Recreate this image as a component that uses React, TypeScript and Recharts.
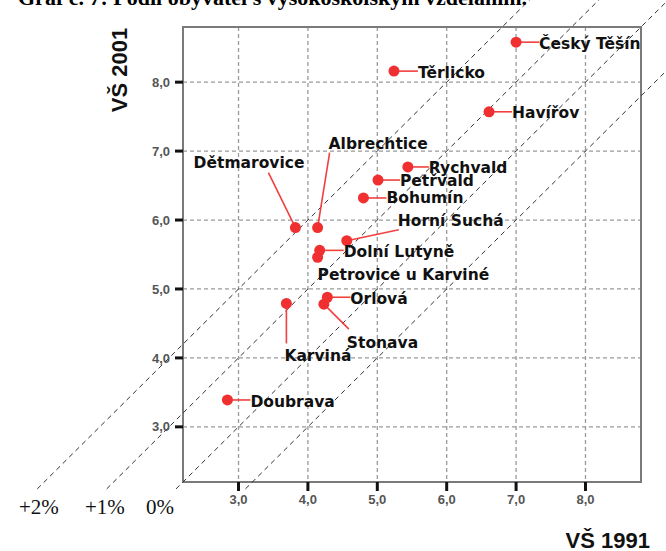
import { ScatterChart, Scatter, XAxis, YAxis, CartesianGrid, ReferenceLine, ReferenceArea } from "recharts";

// obce: podíl obyvatel s VŠ (%) v letech 1991 a 2001
const towns = [
  "Český Těšín",
  "Těrlicko",
  "Havířov",
  "Rychvald",
  "Petřvald",
  "Bohumín",
  "Horní Suchá",
  "Dolní Lutyně",
  "Petrovice u Karviné",
  "Albrechtice",
  "Dětmarovice",
  "Orlová",
  "Stonava",
  "Karviná",
  "Doubrava",
];
const vs1991 = [7.0, 5.24, 6.61, 5.44, 5.01, 4.8, 4.56, 4.17, 4.14, 4.14, 3.82, 4.28, 4.23, 3.69, 2.84];
const vs2001 = [8.58, 8.16, 7.57, 6.77, 6.58, 6.32, 5.7, 5.56, 5.46, 5.89, 5.89, 4.88, 4.78, 4.79, 3.39];

const axisTicks = [3, 4, 5, 6, 7, 8];
const diagonalOffsets = [2, 1, 0, -1];
const diagonalLabels = ["+2%", "+1%", "0%"];

// where each label sits relative to its point (px): leader end and text baseline start
const labelLayout: Record<string, { lead?: [number, number]; text: [number, number]; anchor?: string }> = {
  "Český Těšín": { lead: [23, 0], text: [23, 7] },
  "Těrlicko": { lead: [24, 0], text: [24, 7] },
  "Havířov": { lead: [23, 0], text: [23, 6] },
  "Rychvald": { lead: [21, 0], text: [21, 6] },
  "Petřvald": { lead: [22, 0], text: [22, 6] },
  "Bohumín": { lead: [23, 0], text: [23, 5] },
  "Horní Suchá": { lead: [52, -11], text: [51, -15] },
  "Dolní Lutyně": { lead: [24, 0], text: [24, 7] },
  "Petrovice u Karviné": { text: [0, 23] },
  "Albrechtice": { lead: [12, -75], text: [11, -79] },
  "Dětmarovice": { lead: [-27, -55], text: [9, -60], anchor: "end" },
  "Orlová": { lead: [23, 0], text: [23, 7] },
  "Stonava": { lead: [25, 25], text: [23, 44] },
  "Karviná": { lead: [0, 40], text: [-2, 58] },
  "Doubrava": { lead: [23, 0], text: [23, 7] },
};

const data = towns.map((name, i) => ({ name, x: vs1991[i], y: vs2001[i] }));
const fmt = (v: number) => v.toFixed(1).replace(".", ",");
const tickStyle = { fontSize: 13, fontWeight: 700, fill: "#555", fontFamily: "Liberation Sans, Arial, sans-serif" };

function TownDot(props: any) {
  const { cx, cy, payload } = props;
  const l = labelLayout[payload.name];
  return (
    <g>
      {l.lead && (
        <line x1={cx} y1={cy} x2={cx + l.lead[0]} y2={cy + l.lead[1]} stroke="#f04040" strokeWidth={1.6} />
      )}
      <circle cx={cx} cy={cy} r={5.5} fill="#f03030" />
      <text
        x={cx + l.text[0]}
        y={cy + l.text[1]}
        textAnchor={l.anchor || "start"}
        fontFamily="DejaVu Sans, sans-serif"
        fontWeight={700}
        fontSize={15.5}
        fill="#111"
      >
        {payload.name}
      </text>
    </g>
  );
}

export default function App() {
  return (
    <div style={{ position: "absolute", left: 0, top: 0, width: 666, height: 551, background: "#fff" }}>
      <ScatterChart width={666} height={551} margin={{ top: 27, right: 25, bottom: 39, left: 143 }}>
        <CartesianGrid stroke="#9a9a9a" strokeWidth={1.3} strokeDasharray="4 3" />
        <XAxis
          type="number"
          dataKey="x"
          domain={[2.2, 8.8]}
          ticks={axisTicks}
          allowDataOverflow
          height={30}
          tickFormatter={fmt}
          axisLine={false}
          tickLine={{ stroke: "#111", strokeWidth: 3 }}
          tickSize={9}
          tickMargin={4}
          tick={tickStyle}
        />
        <YAxis
          type="number"
          dataKey="y"
          domain={[2.2, 8.8]}
          ticks={axisTicks}
          allowDataOverflow
          width={40}
          tickFormatter={fmt}
          axisLine={false}
          tickLine={{ stroke: "#111", strokeWidth: 3 }}
          tickSize={8}
          tickMargin={5}
          tick={tickStyle}
        />
        <ReferenceArea x1={2.2} x2={8.8} y1={2.2} y2={8.8} fill="none" stroke="#7a7a7a" strokeWidth={2} fillOpacity={0} />
        {diagonalOffsets.map((c) => (
          <ReferenceLine
            key={c}
            segment={[
              { x: 2.1 - c, y: 2.1 },
              { x: 10.5 - c, y: 10.5 },
            ]}
            ifOverflow="visible"
            stroke="#333"
            strokeWidth={1}
            strokeDasharray="5 4"
          />
        ))}
        <Scatter data={data} shape={TownDot} isAnimationActive={false} />
      </ScatterChart>
      <svg width={666} height={551} style={{ position: "absolute", left: 0, top: 0, pointerEvents: "none" }}>
        <text x={18} y={5} fontFamily="Liberation Serif, Times New Roman, serif" fontWeight={700} fontSize={22} fill="#000">
          Graf č. 7: Podíl obyvatel s vysokoškolským vzděláním.
        </text>
        <text
          transform="translate(127 70) rotate(-90)"
          textAnchor="middle"
          fontFamily="Liberation Sans, Arial, sans-serif"
          fontWeight={700}
          fontSize={22}
          fill="#111"
        >
          VŠ 2001
        </text>
        <text x={650} y={548} textAnchor="end" fontFamily="Liberation Sans, Arial, sans-serif" fontWeight={700} fontSize={22} fill="#111">
          VŠ 1991
        </text>
        {diagonalLabels.map((t, i) => (
          <text
            key={t}
            x={[19, 85, 146][i]}
            y={514}
            fontFamily="Liberation Serif, Times New Roman, serif"
            fontSize={21}
            fill="#111"
          >
            {t}
          </text>
        ))}
      </svg>
    </div>
  );
}
